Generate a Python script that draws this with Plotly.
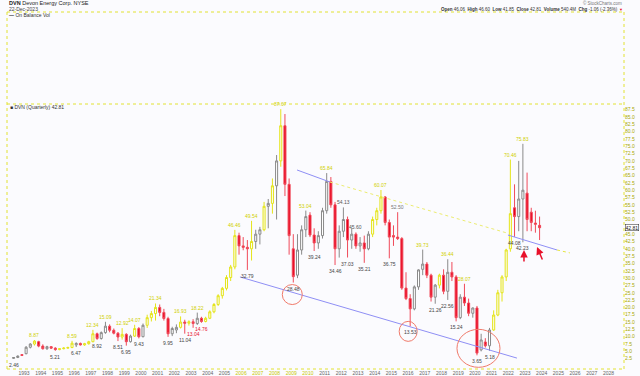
import plotly.graph_objects as go

# ---------------- data (quarterly DVN, 1992Q2 .. 2023Q4) ----------------
start_year, start_q = 1992, 2
opens = [2.6, 2.9, 3.9,
         4.2, 6.4, 7.5, 8.3,
         6.8, 5.9, 6.6, 6.1,
         5.6, 5.9, 6.1, 6.3,
         7.2, 7.7, 7.2, 7.6,
         8.3, 11.0, 9.4, 11.4,
         13.6, 12.2, 11.2, 9.9,
         10.8, 8.3, 10.2, 12.8,
         10.0, 13.9, 16.5, 17.9,
         20.0, 18.3, 16.2, 11.0,
         12.3, 13.2, 15.0, 14.6,
         15.1, 14.5, 16.3, 15.2,
         16.3, 18.5, 21.0, 24.0,
         26.5, 30.2, 33.8, 44.5,
         41.0, 40.5, 40.0, 42.5,
         45.0, 46.5, 54.5, 55.5,
         61.5, 70.0, 82.0, 62.0,
         40.0, 31.0, 39.6, 46.5,
         51.5, 44.7, 42.0, 44.5,
         53.0, 63.0, 55.0, 40.0,
         46.0, 50.0, 43.0, 45.0,
         41.0, 42.0, 40.0, 45.0,
         50.0, 53.0, 57.7, 49.0,
         44.5, 44.0, 43.5, 26.6,
         23.0, 19.5, 27.0, 33.0,
         34.8, 31.0, 23.5, 27.6,
         31.0, 25.5, 32.0, 30.4,
         16.5, 23.5, 21.5, 18.0,
         19.8, 5.5, 8.2, 6.9,
         12.3, 17.4, 25.0, 30.4,
         40.0, 54.0, 51.0, 57.0,
         59.0, 52.5, 48.8, 48.0]
highs = [3.0, 3.6, 4.1,
         6.8, 7.8, 8.87, 8.6,
         7.4, 6.9, 6.8, 6.4,
         6.1, 6.4, 6.6, 8.59,
         8.1, 8.0, 7.9, 8.6,
         12.34, 11.4, 11.8, 15.09,
         14.2, 12.8, 11.6, 12.92,
         11.2, 10.7, 14.07, 13.3,
         14.5, 17.5, 18.8, 21.34,
         21.0, 19.5, 16.8, 13.4,
         14.2, 16.93, 15.8, 15.6,
         16.0, 18.22, 16.8, 16.8,
         19.0, 21.5, 24.5, 27.0,
         31.0, 34.5, 46.46, 45.5,
         44.0, 43.0, 49.54, 46.5,
         47.5, 56.0, 57.0, 64.0,
         72.0, 87.67, 86.0, 64.0,
         45.0, 45.0, 48.0, 53.04,
         52.5, 47.0, 46.0, 54.0,
         65.84, 64.5, 56.0, 48.0,
         54.13, 51.0, 47.0, 45.60,
         44.0, 44.5, 46.0, 51.0,
         54.0, 60.07, 58.0, 50.0,
         48.0, 52.50, 44.0, 32.0,
         24.5, 27.5, 33.0, 39.73,
         35.5, 31.5, 28.0, 31.5,
         33.0, 36.44, 35.5, 31.0,
         24.5, 28.07, 23.0, 20.0,
         20.5, 11.0, 9.5, 13.0,
         19.0, 26.0, 31.0, 40.0,
         70.46, 62.0, 70.0, 75.83,
         66.0, 54.0, 53.0, 51.0]
lows = [2.46, 2.7, 3.4,
        4.0, 6.0, 7.0, 6.4,
        5.6, 5.5, 5.8, 5.21,
        5.4, 5.7, 5.9, 6.1,
        6.47, 7.0, 6.9, 7.3,
        8.1, 8.92, 9.0, 11.0,
        11.5, 10.8, 8.51, 9.0,
        6.95, 8.0, 9.9, 9.43,
        9.8, 13.0, 15.2, 15.5,
        17.0, 15.5, 9.95, 10.2,
        11.2, 12.8, 11.04, 13.8,
        13.04, 14.0, 14.76, 14.9,
        16.0, 18.0, 20.5, 23.0,
        25.8, 29.0, 33.0, 38.0,
        39.5, 32.79, 36.0, 40.0,
        41.5, 46.0, 47.0, 52.0,
        50.0, 68.0, 58.0, 38.0,
        28.48, 30.0, 38.0, 44.0,
        44.0, 39.24, 40.0, 43.5,
        52.0, 54.0, 34.46, 37.0,
        44.0, 37.03, 40.0, 40.0,
        39.0, 35.21, 39.5, 44.0,
        48.0, 52.0, 48.0, 36.75,
        41.0, 43.0, 26.0, 22.5,
        13.53, 19.0, 26.0, 31.0,
        30.0, 22.0, 21.26, 26.5,
        24.5, 22.56, 29.0, 15.24,
        16.0, 20.5, 17.0, 16.5,
        3.65, 5.0, 6.3, 5.18,
        12.0, 17.0, 22.0, 29.0,
        39.0, 44.08, 46.0, 42.23,
        46.0, 46.0, 45.5, 43.0]
closes = [2.9, 3.4, 3.6,
          6.4, 7.5, 8.5, 6.8,
          5.9, 6.6, 6.1, 5.6,
          5.9, 6.1, 6.3, 7.8,
          7.7, 7.2, 7.6, 8.3,
          11.0, 9.4, 11.4, 13.6,
          12.2, 11.2, 9.9, 10.8,
          8.3, 10.2, 12.8, 10.0,
          13.9, 16.5, 17.9, 20.0,
          18.3, 16.2, 11.0, 12.8,
          13.2, 15.0, 14.6, 15.1,
          14.5, 16.3, 15.2, 16.3,
          18.5, 21.0, 24.0, 26.5,
          30.2, 33.8, 44.5, 41.0,
          40.5, 40.0, 42.5, 45.0,
          46.5, 54.5, 55.5, 61.5,
          70.0, 82.0, 62.0, 44.5,
          30.5, 39.6, 46.5, 51.0,
          44.7, 42.0, 44.5, 53.0,
          63.0, 55.0, 40.0, 46.0,
          50.0, 43.0, 45.0, 41.0,
          42.0, 40.0, 45.0, 50.0,
          53.0, 57.7, 49.0, 44.0,
          44.0, 43.5, 26.6, 23.0,
          19.5, 27.0, 32.8, 34.8,
          31.0, 23.5, 27.6, 31.0,
          25.5, 32.0, 30.4, 16.5,
          23.5, 21.5, 18.0, 19.8,
          4.4, 8.9, 6.9, 12.3,
          17.4, 25.0, 30.4, 39.6,
          52.0, 51.0, 57.0, 60.0,
          50.0, 49.0, 48.4, 47.2]
candle_colors = ("w w r "
                 "w w y r  r w r r  y y y y  w r y y  y r w w  r r r y  "
                 "r w y r  w y y y  r r r w  w y r y  r w r y  y y y y  "
                 "y y y r  r r y w  w y w y  w y r r  r w w w  r r w w  "
                 "w r r w  w r w r  w r w y  y y r r  r r r r  r w w w  "
                 "r r w y  r w r r  w r r w  r w r w  y y y y  y r w w  "
                 "r r r r").split()

# labelled highs/lows: (quarter, kind, colour)
label_quarters = ["1992Q2", "1993Q3", "1994Q4", "1995Q4", "1996Q1", "1997Q1",
                  "1997Q2", "1997Q4", "1998Q3", "1998Q4", "1999Q1", "1999Q3",
                  "1999Q4", "2000Q4", "2001Q3", "2002Q2", "2002Q3", "2003Q1",
                  "2003Q2", "2003Q3", "2005Q3", "2006Q2", "2006Q3", "2008Q2",
                  "2009Q1", "2009Q4", "2010Q2", "2011Q1", "2011Q3", "2012Q1",
                  "2012Q2", "2012Q4", "2013Q2", "2014Q2", "2014Q4", "2015Q2",
                  "2016Q1", "2016Q4", "2017Q3", "2018Q2", "2018Q2", "2018Q4",
                  "2019Q2", "2020Q1", "2020Q4", "2022Q1", "2022Q4", "2022Q2",
                  "2022Q4"]
label_kinds = ["L", "H", "L", "H", "L", "H",
               "L", "H", "L", "H", "L", "H",
               "L", "H", "L", "H", "L", "L",
               "H", "L", "H", "L", "H", "H",
               "L", "H", "L", "H", "L", "H",
               "L", "H", "L", "H", "L", "H",
               "L", "H", "L", "H", "L", "L",
               "H", "L", "L", "H", "H", "L",
               "L"]
label_colors = ["#444", "#d0d000", "#444", "#d0d000", "#444", "#d0d000",
                "#444", "#d0d000", "#444", "#d0d000", "#444", "#d0d000",
                "#444", "#d0d000", "#444", "#d0d000", "#444", "#e8102a",
                "#d0d000", "#e8102a", "#d0d000", "#444", "#d0d000", "#d0d000",
                "#444", "#d0d000", "#444", "#d0d000", "#444", "#555",
                "#444", "#555", "#444", "#d0d000", "#444", "#777",
                "#444", "#d0d000", "#444", "#d0d000", "#444", "#444",
                "#d0d000", "#444", "#444", "#d0d000", "#d0d000", "#444",
                "#444"]

year_ticks = list(range(1993, 2029))
price_ticks = [2.5 * k for k in range(1, 36)]

# hand-drawn analysis lines (year, price)
lower_trend = [(2005.93, 30.4), (2022.52, 2.7)]
upper_trend = [(2009.35, 66.9), (2011.32, 62.8)]
upper_trend_ext = [(2011.32, 62.8), (2021.92, 45.4)]
recent_trend = [(2021.98, 44.7), (2024.92, 39.6)]
recent_trend_ext = [(2024.92, 39.6), (2025.69, 38.6)]

# ---------------- build ----------------
W, H = 640, 376
PL, PR, PT, PB, OT = 7, 624, 104, 369, 12
X0, X1 = 1991.98, 2028.93
Y0, Y1 = -1.02, 89.42

n = len(opens)
assert n == len(highs) == len(lows) == len(closes) == len(candle_colors)
xs, qnames = [], []
for i in range(n):
    k = (start_q - 1) + i
    yr, q = start_year + k // 4, k % 4
    xs.append(yr + q / 4 + 0.125)
    qnames.append(f"{yr}Q{q + 1}")

def px(xp):
    return xp / W

def py(yp):
    return 1 - yp / H

fig = go.Figure()
styles = {
    "w": dict(fill="#ffffff", line="#8a8a8a"),
    "y": dict(fill="#fdfdf0", line="#e4e41a"),
    "r": dict(fill="#e8001c", line="#f04a5a"),
}
for key, st in styles.items():
    idx = [i for i in range(n) if candle_colors[i] == key]
    fig.add_trace(go.Candlestick(
        x=[xs[i] for i in idx], open=[opens[i] for i in idx],
        high=[highs[i] for i in idx], low=[lows[i] for i in idx],
        close=[closes[i] for i in idx],
        increasing=dict(fillcolor=st["fill"], line=dict(color=st["line"], width=1)),
        decreasing=dict(fillcolor=st["fill"], line=dict(color=st["line"], width=1)),
        whiskerwidth=0, showlegend=False, hoverinfo="skip"))

ann = []
for qn, kind, col in zip(label_quarters, label_kinds, label_colors):
    i = qnames.index(qn)
    v = highs[i] if kind == "H" else lows[i]
    ann.append(dict(x=xs[i], y=v, xref="x", yref="y", text=f"{v:.2f}",
                    showarrow=False, yshift=5 if kind == "H" else -6,
                    font=dict(size=5, color=col, family="Liberation Sans")))

tick_text = []
for y in year_ticks:
    col = "#c8c800" if 2006 <= y <= 2010 else "#666666"
    tick_text.append(f'<span style="color:{col}">{y}</span>')

shapes = []
dot = dict(color="#e2e233", width=1, dash="dot")
for (x0, y0, x1, y1) in [(PL, OT, PR, OT), (PL, PT, PR, PT), (PL, PB, PR, PB),
                         (PL, OT, PL, PB), (PR, OT, PR, PB)]:
    shapes.append(dict(type="line", xref="paper", yref="paper",
                       x0=px(x0), y0=py(y0), x1=px(x1), y1=py(y1), line=dot))

def seg(pts, color, dash="solid"):
    (a, b), (c, d) = pts
    shapes.append(dict(type="line", xref="x", yref="y", x0=a, y0=b, x1=c, y1=d,
                       line=dict(color=color, width=1, dash=dash)))

seg(lower_trend, "#8f8ff5")
seg(upper_trend, "#8f8ff5")
seg(upper_trend_ext, "#ecec70", "dot")
seg(recent_trend, "#8f8ff5")
seg(recent_trend_ext, "#e6e640", "dot")

# red circles around key lows (pixel-sized around the candle low)
for qn, (xa, xb, ya, yb) in [("2009Q1", (-11, 9, -22, -2)),
                             ("2016Q1", (-11, 7, -15, 5)),
                             ("2020Q1", (-20, 23, -12, 26))]:
    i = qnames.index(qn)
    shapes.append(dict(type="circle", xref="x", yref="y", xsizemode="pixel",
                       ysizemode="pixel", xanchor=xs[i], yanchor=lows[i],
                       x0=xa, x1=xb, y0=ya, y1=yb,
                       line=dict(color="#f07a6a", width=1)))

# red arrows
for (xa, ya, axo, ayo) in [(2022.94, 39.6, 0, 13), (2023.72, 40.6, 6, 14)]:
    ann.append(dict(x=xa, y=ya, xref="x", yref="y", text="", showarrow=True,
                    ax=axo, ay=ayo, arrowhead=2, arrowsize=1, arrowwidth=1.5,
                    arrowcolor="#e8102a"))

F = "Liberation Sans"
hdr = [
    (7, 3.5, "<b>DVN</b> Devon Energy Corp. NYSE", "left", "#222", 5.5),
    (7, 9.5, "22-Dec-2023", "left", "#444", 5),
    (7, 15, "<b>—</b> On Balance Vol", "left", "#333", 5),
    (624, 3.5, "© StockCharts.com", "right", "#777", 4.5),
    (620, 9.5, "<b>Open</b> 46.06  <b>High</b> 46.60  <b>Low</b> 41.85  <b>Close</b> 42.81  "
               "<b>Volume</b> 540.4M  <b>Chg</b> -1.06 (-2.36%)", "right", "#333", 4.5),
    (625, 9.5, "▼", "right", "#e8102a", 4),
    (8, 107.5, "■ DVN (Quarterly) 42.81", "left", "#333", 5),
]
for (x, y, t, anc, col, sz) in hdr:
    ann.append(dict(x=px(x), y=py(y), xref="paper", yref="paper", text=t,
                    showarrow=False, xanchor=anc, yanchor="middle",
                    font=dict(size=sz, color=col, family=F)))

# last price tag (covers the neighbouring axis label, as in the original)
ann.append(dict(x=px(PR + 1), y=closes[-1], xref="paper", yref="y", text="42.81",
                showarrow=False, xanchor="left", yanchor="middle",
                bgcolor="#ffffff", bordercolor="#222", borderwidth=0.5, borderpad=0,
                font=dict(size=5, color="#111", family=F)))
tag_hidden = min(price_ticks, key=lambda v: abs(v - closes[-1]))
price_text = ["" if v == tag_hidden else f"{v:.1f}" for v in price_ticks]

fig.update_layout(
    width=W, height=H, margin=dict(l=0, r=0, t=0, b=0),
    paper_bgcolor="#fbfbfe", plot_bgcolor="#fbfbfe",
    annotations=ann, shapes=shapes, showlegend=False,
    xaxis=dict(domain=[PL / W, PR / W], range=[X0, X1], rangeslider=dict(visible=False),
               tickvals=year_ticks, ticktext=tick_text, showgrid=False, zeroline=False,
               showline=False, ticks="", tickfont=dict(size=5, family=F),
               automargin=False, ticklabelstandoff=0),
    yaxis=dict(domain=[py(PB), py(PT)], range=[Y0, Y1], side="right",
               tickvals=price_ticks, ticktext=price_text,
               showgrid=False, zeroline=False, showline=False, ticks="",
               tickfont=dict(size=5, color="#a8a800", family=F), automargin=False),
)
fig.write_html("out.html")
